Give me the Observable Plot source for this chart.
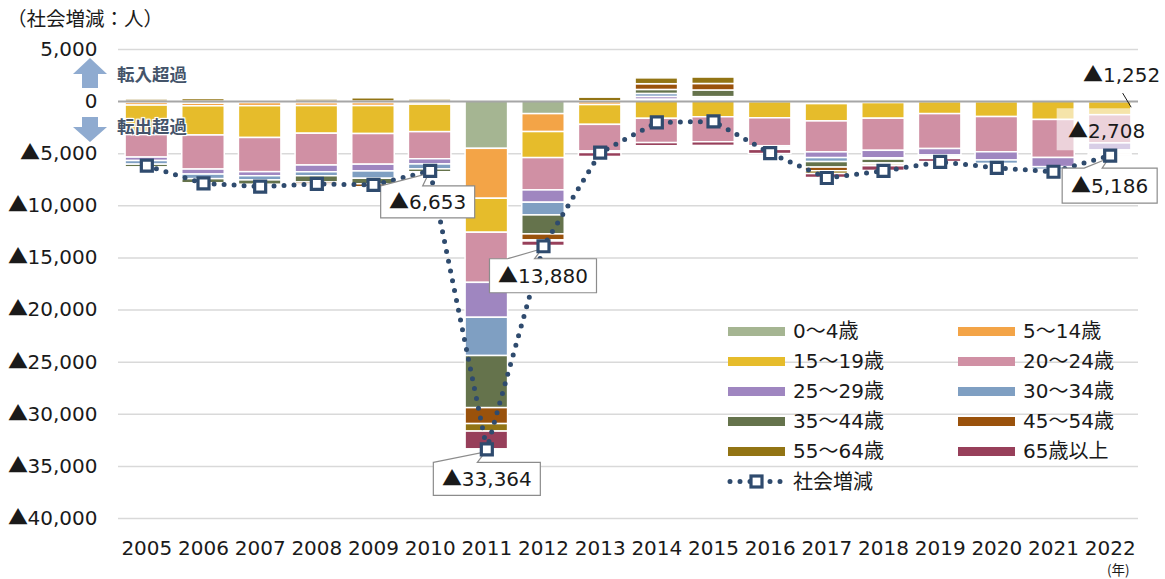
<!DOCTYPE html>
<html><head><meta charset="utf-8">
<script src="https://cdn.jsdelivr.net/npm/d3@7"></script>
<script src="https://cdn.jsdelivr.net/npm/@observablehq/plot@0.6"></script>
<style>
@font-face{font-family:"TriCJK";src:local("Noto Sans CJK JP"),local("Noto Sans CJK JP Regular"),local("NotoSansCJKjp-Regular"),local("NotoSansCJKJP-Regular");unicode-range:U+25B2;}
body{margin:0;background:#fff;}
#wrap{position:relative;width:1165px;height:579px;font-family:"TriCJK","DejaVu Sans","Noto Sans CJK JP",sans-serif;color:#1a1a1a;overflow:hidden;}
#wrap svg{position:absolute;left:0;top:0;}
.abs{position:absolute;white-space:nowrap;line-height:1;}
</style></head><body><div id="wrap"></div>
<script>
// ---------- data ----------
const years = ["2005","2006","2007","2008","2009","2010","2011","2012","2013","2014","2015","2016","2017","2018","2019","2020","2021","2022"];
const ageGroups = ["0～4歳","5～14歳","15～19歳","20～24歳","25～29歳","30～34歳","35～44歳","45～54歳","55～64歳","65歳以上"];
const ageColors = ["#a5b592","#f3a447","#e6bc2b","#d090a4","#9f86c0","#7f9fc2","#65734c","#9a520c","#927414","#973f5a"];
//                 2005   2006   2007   2008   2009   2010   2011   2012   2013   2014   2015   2016   2017   2018   2019   2020   2021   2022
const v0_4   = [  -130,  -200,  -140,  -150,  -140,  -120, -4530, -1200,   -50,   120,   100,   -30,  -100,   -60,   -20,   -20,   120,   -20];
const v5_14  = [  -250,  -250,  -300,  -280,  -290,  -170, -4790, -1720,  -280,    80,    80,   -20,  -140,   -80,   -30,   -30,   -20,   -30];
const v15_19 = [ -2820, -2800, -3050, -2650, -2680, -2640, -3260, -2500, -1900, -1650, -1500, -1550, -1660, -1500, -1150, -1430, -1740, -1252];
const v20_24 = [ -2170, -3270, -3280, -3050, -2940, -2600, -4810, -3100, -2550, -2330, -2400, -2680, -2970, -3080, -3350, -3380, -3650, -2708];
const v25_29 = [  -330,  -480,  -390,  -650,  -650,  -500, -3350, -1180,   -60,   250,   100,  -150,  -550,  -720,  -620,  -790,  -880,  -670];
const v30_34 = [  -350,  -440,  -400,  -380,  -700,  -470, -3670, -1220,   -40,   290,   150,  -100,  -380,  -120,  -150,  -340,  -270,  -130];
const v35_44 = [  -280,  -400,  -430,  -600,  -530,  -280, -5000, -1820,   -50,   380,   640,   -80,  -530,  -380,  -100,  -150,  -100,  -120];
const v45_54 = [   -10,  -120,  -150,  -200,  -300,   -40, -1530,  -580,    30,   550,   620,   -20,  -350,  -100,   -40,   -80,  -150,  -150];
const v55_64 = [   200,   250,    50,   200,   320,   200,  -720,  -100,   350,   560,   620,    30,  -270,  -160,   -40,   -50,   -40,   -50];
const v65    = [   -20,   -80,   -90,  -150,   -50,   -30, -1700,  -430,  -380,  -300,  -350,  -400,  -380,  -450,  -300,  -100,   -30,   -56];
const socialChange = [-6150, -7850, -8150, -7900, -7990, -6653, -33364, -13880, -4900, -1990, -1900, -4950, -7330, -6650, -5780, -6360, -6730, -5186];
const yTicks = [5000, 0, -5000, -10000, -15000, -20000, -25000, -30000, -35000, -40000];
const calloutYears = ["2010", "2011", "2012", "2022"];
const segmentLabelYear = "2022";

// ---------- styles ----------
const FONT = '"TriCJK","DejaVu Sans","Noto Sans CJK JP",sans-serif';
const CJK = '"Noto Sans CJK JP",sans-serif';
const NAVY = "#2f4b6e";
const calloutStyle = { // box center offset from marker, size, pointer base (from box left)
  "2010": {dx: -2, dy: 31.5, w: 94, h: 32, b0: 0, b1: 42},
  "2011": {dx: 0.5, dy: 30, w: 107, h: 33, b0: 0, b1: 44},
  "2012": {dx: 0, dy: 30, w: 107, h: 34, b0: 18, b1: 45},
  "2022": {dx: 0, dy: 30.5, w: 95, h: 35, b0: 22, b1: 40}
};

const series = [v0_4, v5_14, v15_19, v20_24, v25_29, v30_34, v35_44, v45_54, v55_64, v65];
const tidy = [];
years.forEach((yr, i) => series.forEach((arr, g) => tidy.push({year: yr, age: ageGroups[g], value: arr[i]})));
const totals = years.map((yr, i) => ({year: yr, value: socialChange[i]}));
const fmtNum = d3.format(",");
const fmtY = v => v < 0 ? "▲" + fmtNum(-v) : fmtNum(v);

function annotations(...args) {
  try {
    const s = args.find(a => a && typeof a === "object" && typeof a.x === "function" && typeof a.y === "function");
    if (!s) return null;
    const bw = s.x.bandwidth ? s.x.bandwidth() : 0;
    const X = k => s.x(k) + bw / 2;
    const Y = v => s.y(v);
    const g = d3.create("svg:g").attr("font-family", FONT).attr("font-size", 20);
    // segment labels for last year
    const li = years.indexOf(segmentLabelYear);
    const cx = X(segmentLabelYear);
    const a = v15_19[li], b = v20_24[li];
    const ymid = Y(a + b / 2);
    g.append("rect").attr("x", cx - 53).attr("y", ymid - 20).attr("width", 82).attr("height", 42)
      .attr("fill", "white").attr("fill-opacity", 0.6);
    g.append("text").attr("x", cx - 3).attr("y", ymid + 10).attr("text-anchor", "middle").attr("fill", "#1a1a1a").text(fmtY(b));
    const y0 = Y(0);
    g.append("text").attr("x", cx + 12).attr("y", y0 - 19).attr("text-anchor", "middle").attr("fill", "#1a1a1a").text(fmtY(a));
    g.append("line").attr("x1", cx + 13).attr("y1", y0 - 8).attr("x2", cx + 21.5).attr("y2", ymid - 21)
      .attr("stroke", "#1a1a1a").attr("stroke-width", 1);
    // callouts
    calloutYears.forEach(yr => {
      const i = years.indexOf(yr);
      const v = socialChange[i];
      const st = calloutStyle[yr];
      const mx = X(yr), my = Y(v);
      const bx = mx + st.dx - st.w / 2, by = my + st.dy - st.h / 2;
      const p = `M${bx},${by}L${bx + st.b0},${by}L${mx - 1},${my + 3}L${bx + st.b1},${by}L${bx + st.w},${by}L${bx + st.w},${by + st.h}L${bx},${by + st.h}Z`;
      g.append("path").attr("d", p).attr("fill", "white").attr("stroke", "#8c8c8c").attr("stroke-width", 1.2);
      g.append("text").attr("x", bx + st.w / 2).attr("y", by + st.h / 2 + 7.5).attr("text-anchor", "middle")
        .attr("fill", "#1a1a1a").text(fmtY(v));
    });
    return g.node();
  } catch (e) { return null; }
}

const plot = Plot.plot({
  width: 1165, height: 579,
  marginTop: 49, marginBottom: 61, marginLeft: 118, marginRight: 27,
  style: {fontFamily: FONT, fontSize: "20px", color: "#1a1a1a", background: "transparent", overflow: "visible"},
  x: {domain: years, paddingInner: 0.25, paddingOuter: 0.125, round: false, label: null, tickSize: 0, tickPadding: 22},
  y: {domain: [-40000, 5000], ticks: yTicks, tickFormat: fmtY, label: null, tickSize: 0, tickPadding: 21},
  color: {domain: ageGroups, range: ageColors},
  marks: [
    Plot.ruleY(yTicks.filter(t => t !== 0), {stroke: "#d9d9d9", strokeWidth: 1.5}),
    Plot.barY(tidy, {x: "year", y: "value", fill: "age", order: ageGroups, stroke: "white", strokeWidth: 1.5}),
    Plot.ruleY([0], {stroke: "#a6a6a6", strokeWidth: 2}),
    Plot.line(totals, {x: "year", y: "value", stroke: NAVY, strokeWidth: 5, strokeDasharray: "0 10", strokeLinecap: "round"}),
    annotations,
    Plot.dot(totals, {x: "year", y: "value", symbol: "square", r: 6.2, fill: "white", stroke: NAVY, strokeWidth: 3.2})
  ]
});

const wrap = document.getElementById("wrap");
wrap.appendChild(plot);

function addText(txt, left, top, size, extra) {
  const d = document.createElement("div");
  d.className = "abs";
  d.textContent = txt;
  d.style.left = left + "px"; d.style.top = top + "px"; d.style.fontSize = size + "px";
  if (extra) Object.assign(d.style, extra);
  wrap.appendChild(d);
  return d;
}
addText("（社会増減：人）", 7, 8, 19.5, {fontFamily: CJK});
addText("(年)", 1107, 563, 13.5, {fontFamily: CJK});
addText("転入超過", 117, 65, 17.5, {fontFamily: CJK, fontWeight: "bold", color: "#44546a"});
addText("転出超過", 117, 117, 17.5, {fontFamily: CJK, fontWeight: "bold", color: "#44546a",
  textShadow: "0 0 2px #fff,0 0 2px #fff,0 0 3px #fff,1px 1px 0 #fff,-1px -1px 0 #fff,1px -1px 0 #fff,-1px 1px 0 #fff"});

// arrows
const arr = d3.create("svg").attr("width", 1165).attr("height", 579).style("pointer-events", "none");
arr.append("polygon").attr("points", "73,74 90,58 107,74 98,74 98,88 82,88 82,74").attr("fill", "#8fabd0");
arr.append("polygon").attr("points", "82,117 98,117 98,127 107,127 90,142 73,127 82,127").attr("fill", "#8fabd0");
wrap.appendChild(arr.node());

// legend
const colX = [728, 958];
ageGroups.forEach((ag, i) => {
  const col = i % 2, row = Math.floor(i / 2);
  const cy = 331.5 + row * 30;
  const sw = document.createElement("div");
  sw.className = "abs";
  Object.assign(sw.style, {left: colX[col] + "px", top: (cy - 4.5) + "px", width: "57px", height: "9px", background: ageColors[i]});
  wrap.appendChild(sw);
  addText(ag, colX[col] + 65, cy - 11, 20);
});
{
  const cy = 331.5 + 5 * 30;
  const s = d3.create("svg").attr("width", 1165).attr("height", 579).style("pointer-events", "none");
  s.append("line").attr("x1", 730).attr("x2", 785).attr("y1", cy).attr("y2", cy)
    .attr("stroke", NAVY).attr("stroke-width", 5).attr("stroke-dasharray", "0 10").attr("stroke-linecap", "round");
  s.append("rect").attr("x", 751).attr("y", cy - 5.5).attr("width", 11).attr("height", 11)
    .attr("fill", "white").attr("stroke", NAVY).attr("stroke-width", 3.2);
  wrap.appendChild(s.node());
  addText("社会増減", 793, cy - 11, 20, {fontFamily: CJK});
}
</script></body></html>
